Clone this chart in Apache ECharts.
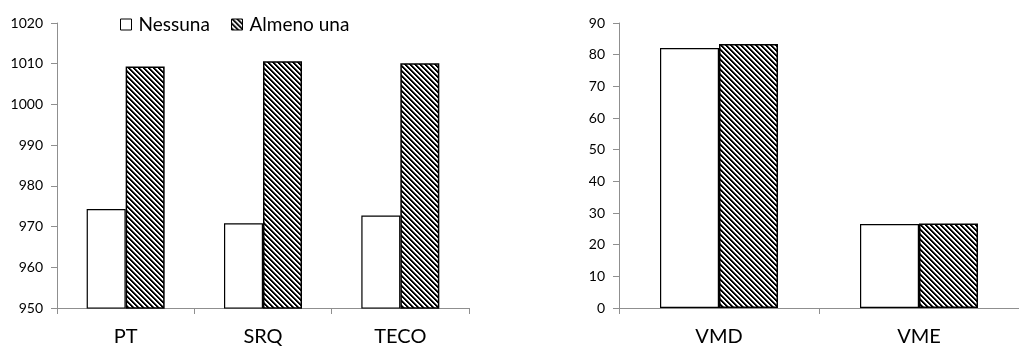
<!DOCTYPE html>
<html>
<head>
<meta charset="utf-8">
<script src="https://cdn.jsdelivr.net/npm/echarts@6/dist/echarts.min.js"></script>
<style>
html,body{margin:0;padding:0;background:#fff;}
#chart{width:1019px;height:347px;}
</style>
</head>
<body>
<div id="chart"></div>
<script>
const seriesNames = ['Nessuna', 'Almeno una'];
const leftCategories = ['PT', 'SRQ', 'TECO'];
const leftNessuna = [974.3, 970.8, 972.7];
const leftAlmeno = [1009.3, 1010.6, 1010.1];
const rightCategories = ['VMD', 'VME'];
const rightNessuna = [82.1, 26.5];
const rightAlmeno = [83.4, 26.7];

function makeHatch() {
  const s = 5;
  const c = document.createElement('canvas');
  c.width = s; c.height = s;
  const ctx = c.getContext('2d');
  for (let y = 0; y < s; y++) {
    for (let x = 0; x < s; x++) {
      const d = (((x - y) % s) + s) % s;
      ctx.fillStyle = d < 2 ? '#000' : (d === 2 ? '#777' : '#fff');
      ctx.fillRect(x, y, 1, 1);
    }
  }
  return c;
}
const hatch = { image: makeHatch(), repeat: 'repeat' };

const FONT = 'Lato';
const axisGrey = '#8f8f8f';

function yAxis(gridIndex, min, max, interval) {
  return {
    type: 'value', gridIndex, min, max, interval,
    splitLine: { show: false },
    axisLine: { show: true, lineStyle: { color: axisGrey, width: 1 } },
    axisTick: { show: true, length: 6, lineStyle: { color: axisGrey } },
    axisLabel: { color: '#000', fontFamily: FONT, fontSize: 14, margin: 14, formatter: v => String(v) }
  };
}
function xAxis(gridIndex, data) {
  return {
    type: 'category', gridIndex, data,
    axisLine: { show: true, lineStyle: { color: axisGrey, width: 1 } },
    axisTick: { show: true, length: 6, alignWithLabel: false, lineStyle: { color: axisGrey } },
    axisLabel: { color: '#000', fontFamily: FONT, fontSize: 20, margin: 19 }
  };
}
const whiteStyle = { color: '#fff', borderColor: '#000', borderWidth: 1.2 };
const hatchStyle = { color: hatch, borderColor: '#000', borderWidth: 1.5 };

const option = {
  animation: false,
  backgroundColor: '#fff',
  grid: [
    { left: 57, top: 23, width: 412, bottom: 38 },
    { left: 619, top: 23, width: 414, bottom: 38 }
  ],
  legend: [
    {
      left: 115, top: 10, itemWidth: 11, itemHeight: 11, itemGap: 8,
      data: [{ name: seriesNames[0], icon: 'rect', itemStyle: { color: '#fff', borderColor: '#000', borderWidth: 1 } }],
      textStyle: { color: '#000', fontFamily: FONT, fontSize: 19, padding: [0, 0, 0, 2] }
    },
    {
      left: 226, top: 10, itemWidth: 11, itemHeight: 11,
      data: [{ name: seriesNames[1], icon: 'rect', itemStyle: { color: hatch, borderColor: '#000', borderWidth: 1 } }],
      textStyle: { color: '#000', fontFamily: FONT, fontSize: 19, padding: [0, 0, 0, 2] }
    }
  ],
  xAxis: [xAxis(0, leftCategories), xAxis(1, rightCategories)],
  yAxis: [yAxis(0, 950, 1020, 10), yAxis(1, 0, 90, 10)],
  series: [
    { name: seriesNames[0], type: 'bar', xAxisIndex: 0, yAxisIndex: 0, data: leftNessuna, barWidth: 39, barGap: '0%', itemStyle: whiteStyle },
    { name: seriesNames[1], type: 'bar', xAxisIndex: 0, yAxisIndex: 0, data: leftAlmeno, barWidth: 39, barGap: '0%', itemStyle: hatchStyle },
    { name: seriesNames[0], type: 'bar', xAxisIndex: 1, yAxisIndex: 1, data: rightNessuna, barWidth: 59, barGap: '0%', itemStyle: whiteStyle },
    { name: seriesNames[1], type: 'bar', xAxisIndex: 1, yAxisIndex: 1, data: rightAlmeno, barWidth: 59, barGap: '0%', itemStyle: hatchStyle }
  ]
};
const chart = echarts.init(document.getElementById('chart'), null, { renderer: 'canvas' });
chart.setOption(option);
</script>
</body>
</html>
